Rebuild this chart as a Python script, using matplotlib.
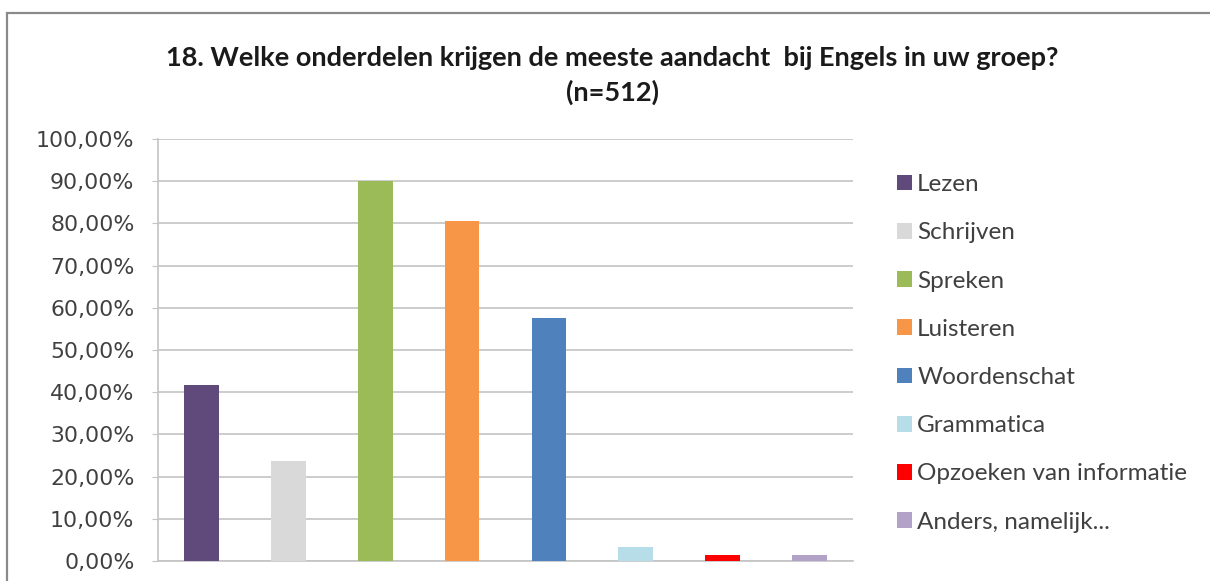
import matplotlib
matplotlib.use("Agg")
import matplotlib.pyplot as plt
from matplotlib.patches import Rectangle
from matplotlib.ticker import FuncFormatter

title_lines = ["18. Welke onderdelen krijgen de meeste aandacht  bij Engels in uw groep?", "(n=512)"]
categories = ["Lezen", "Schrijven", "Spreken", "Luisteren", "Woordenschat",
              "Grammatica", "Opzoeken van informatie", "Anders, namelijk..."]
values = [41.7, 23.7, 90.0, 80.6, 57.6, 3.3, 1.5, 1.4]
colors = ["#604A7B", "#D9D9D9", "#9BBB59", "#F79646", "#4F81BD",
          "#B7DEE8", "#FF0000", "#B3A2C7"]
yticks = [0, 10, 20, 30, 40, 50, 60, 70, 80, 90, 100]

fig = plt.figure(figsize=(12.1, 5.81), dpi=100)
fig.patch.set_facecolor("white")

# outer chart frame
fig.patches.append(Rectangle((0.0058, -0.05), 1.2, 0.978 + 0.05, transform=fig.transFigure,
                             fill=False, edgecolor="#8a8a8a", linewidth=1.6))

ax = fig.add_axes([0.1306, 0.0344, 0.705 - 0.1306, 0.7608 - 0.0344])
handles = []
for i, (c, v, col) in enumerate(zip(categories, values, colors)):
    h = ax.bar(i, v, width=0.4, color=col, label=c, zorder=3)
    handles.append(h)

ax.set_xlim(-0.5, len(categories) - 0.5)
ax.set_ylim(0, 100)
ax.set_yticks(yticks)
ax.yaxis.set_major_formatter(FuncFormatter(lambda v, p: f"{v:.2f}%".replace(".", ",")))
ax.set_xticks([])
ax.grid(axis="y", color="#c4c4c4", linewidth=1.2, zorder=0)
for s in ["top", "right"]:
    ax.spines[s].set_visible(False)
ax.spines["left"].set_color("#c4c4c4")
ax.spines["bottom"].set_color("#c4c4c4")
ax.spines["left"].set_linewidth(1.2)
ax.spines["bottom"].set_linewidth(1.2)
ax.tick_params(axis="y", length=4, color="#c4c4c4", labelsize=15.8, labelcolor="#404040", pad=13)
for lab in ax.get_yticklabels():
    lab.set_family("DejaVu Sans")

fig.text(0.506, 1 - 58 / 581, title_lines[0], ha="center", va="center", fontsize=19.5,
         fontweight="bold", family="Lato", color="#1a1a1a")
fig.text(0.506, 1 - 92 / 581, title_lines[1], ha="center", va="center", fontsize=19.5,
         fontweight="bold", family="Lato", color="#1a1a1a")

leg = fig.legend(handles=handles, labels=categories, loc="upper left",
                 bbox_to_anchor=(0.7235, 0.738), frameon=False,
                 prop={"family": "Lato", "size": 17.5}, handlelength=0.62,
                 handleheight=0.62, handletextpad=0.2, labelspacing=1.12)
for t in leg.get_texts():
    t.set_color("#404040")

fig.savefig("out.png", dpi=100, facecolor="white")
